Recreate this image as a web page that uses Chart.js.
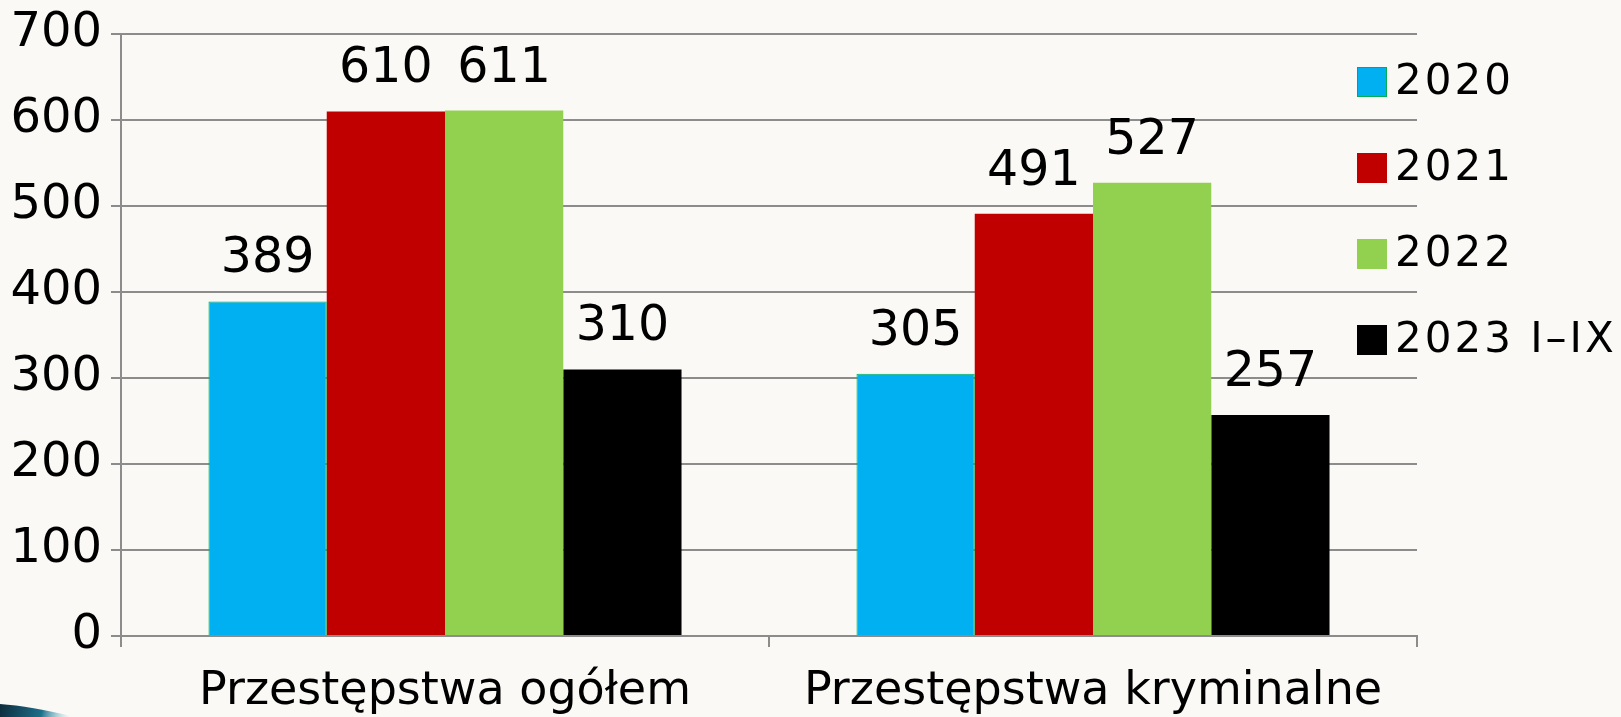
<!DOCTYPE html>
<html>
<head>
<meta charset="utf-8">
<script src="https://cdn.jsdelivr.net/npm/chart.js@4"></script>
<style>
  html, body { margin: 0; padding: 0; background: #fbf9f5; }
  #wrap { position: relative; width: 1621px; height: 717px; }
</style>
</head>
<body>
<div id="wrap"><canvas id="chart" width="1621" height="717"></canvas></div>
<script>
const categories = ["Przestępstwa ogółem", "Przestępstwa kryminalne"];
const seriesNames = ["2020", "2021", "2022", "2023 I–IX"];
const values2020 = [389, 305];
const values2021 = [610, 491];
const values2022 = [611, 527];
const values2023 = [310, 257];
const yTicks = [0, 100, 200, 300, 400, 500, 600, 700];

const colors = ["#00b0f0", "#c00000", "#92d050", "#000000"];
const FONT = "'DejaVu Sans', sans-serif";

// value labels above bars
const valueLabels = {
  id: "valueLabels",
  afterDatasetsDraw(chart) {
    const ctx = chart.ctx;
    ctx.save();
    ctx.font = "49px " + FONT;
    ctx.fillStyle = "#000";
    ctx.textAlign = "center";
    ctx.textBaseline = "alphabetic";
    chart.data.datasets.forEach((ds, i) => {
      chart.getDatasetMeta(i).data.forEach((bar, j) => {
        ctx.fillText(String(ds.data[j]), bar.x, bar.y - 29);
      });
    });
    ctx.restore();
  }
};

// legend on the right, overlapping the end of the gridlines like the original
const sideLegend = {
  id: "sideLegend",
  afterDraw(chart) {
    const ctx = chart.ctx;
    ctx.save();
    ctx.letterSpacing = "3px";
    ctx.font = "42px " + FONT;
    ctx.textBaseline = "middle";
    chart.data.datasets.forEach((ds, i) => {
      const cy = 82 + i * 86;
      ctx.fillStyle = ds.backgroundColor;
      ctx.fillRect(1357, cy - 15, 30, 30);
      if (ds.borderWidth) {
        ctx.strokeStyle = ds.borderColor;
        ctx.lineWidth = 1;
        ctx.strokeRect(1357.5, cy - 14.5, 29, 29);
      }
      ctx.fillStyle = "#000";
      ctx.fillText(ds.label, 1395, cy + 1);
    });
    ctx.restore();
  }
};

// small dark swoosh from the slide template in the bottom-left corner
const swoosh = {
  id: "swoosh",
  beforeDraw(chart) {
    const ctx = chart.ctx;
    ctx.save();
    const g = ctx.createLinearGradient(0, 700, 70, 717);
    g.addColorStop(0, "#0d2a3a");
    g.addColorStop(0.6, "#1d6f8a");
    g.addColorStop(1, "rgba(120,200,220,0)");
    ctx.fillStyle = g;
    ctx.beginPath();
    ctx.moveTo(0, 704);
    ctx.quadraticCurveTo(30, 706, 75, 717);
    ctx.lineTo(0, 717);
    ctx.closePath();
    ctx.fill();
    ctx.restore();
  }
};

const allValues = [values2020, values2021, values2022, values2023];

new Chart(document.getElementById("chart"), {
  type: "bar",
  data: {
    labels: categories,
    datasets: seriesNames.map((name, i) => ({
      label: name,
      data: allValues[i],
      backgroundColor: colors[i],
      borderColor: i === 0 ? "#00b050" : colors[i],
      borderWidth: i === 0 ? 1 : 0,
      categoryPercentage: 0.73,
      barPercentage: 1.0
    }))
  },
  options: {
    responsive: false,
    animation: false,
    layout: { padding: { left: 0, right: 204, top: 34, bottom: 0 } },
    plugins: {
      legend: { display: false },
      tooltip: { enabled: false }
    },
    scales: {
      x: {
        afterFit(scale) { scale.height = 81; },
        grid: {
          display: true,
          drawOnChartArea: false,
          drawTicks: true,
          tickLength: 11,
          color: "#8c8c8c",
          lineWidth: 2,
          offset: true
        },
        border: { display: true, color: "#8c8c8c", width: 2 },
        ticks: {
          color: "#000",
          font: { family: FONT, size: 46 },
          padding: 17,
          maxRotation: 0
        }
      },
      y: {
        min: 0,
        max: 700,
        afterFit(scale) { scale.width = 121; },
        afterBuildTicks(scale) {
          scale.ticks = yTicks.map(v => ({ value: v }));
        },
        grid: {
          color: "#8c8c8c",
          lineWidth: 2,
          drawTicks: true,
          tickLength: 10
        },
        border: { display: true, color: "#8c8c8c", width: 2 },
        ticks: {
          color: "#000",
          font: { family: FONT, size: 48, lineHeight: 1.0 },
          padding: 9
        }
      }
    }
  },
  plugins: [swoosh, valueLabels, sideLegend]
});
</script>
</body>
</html>
